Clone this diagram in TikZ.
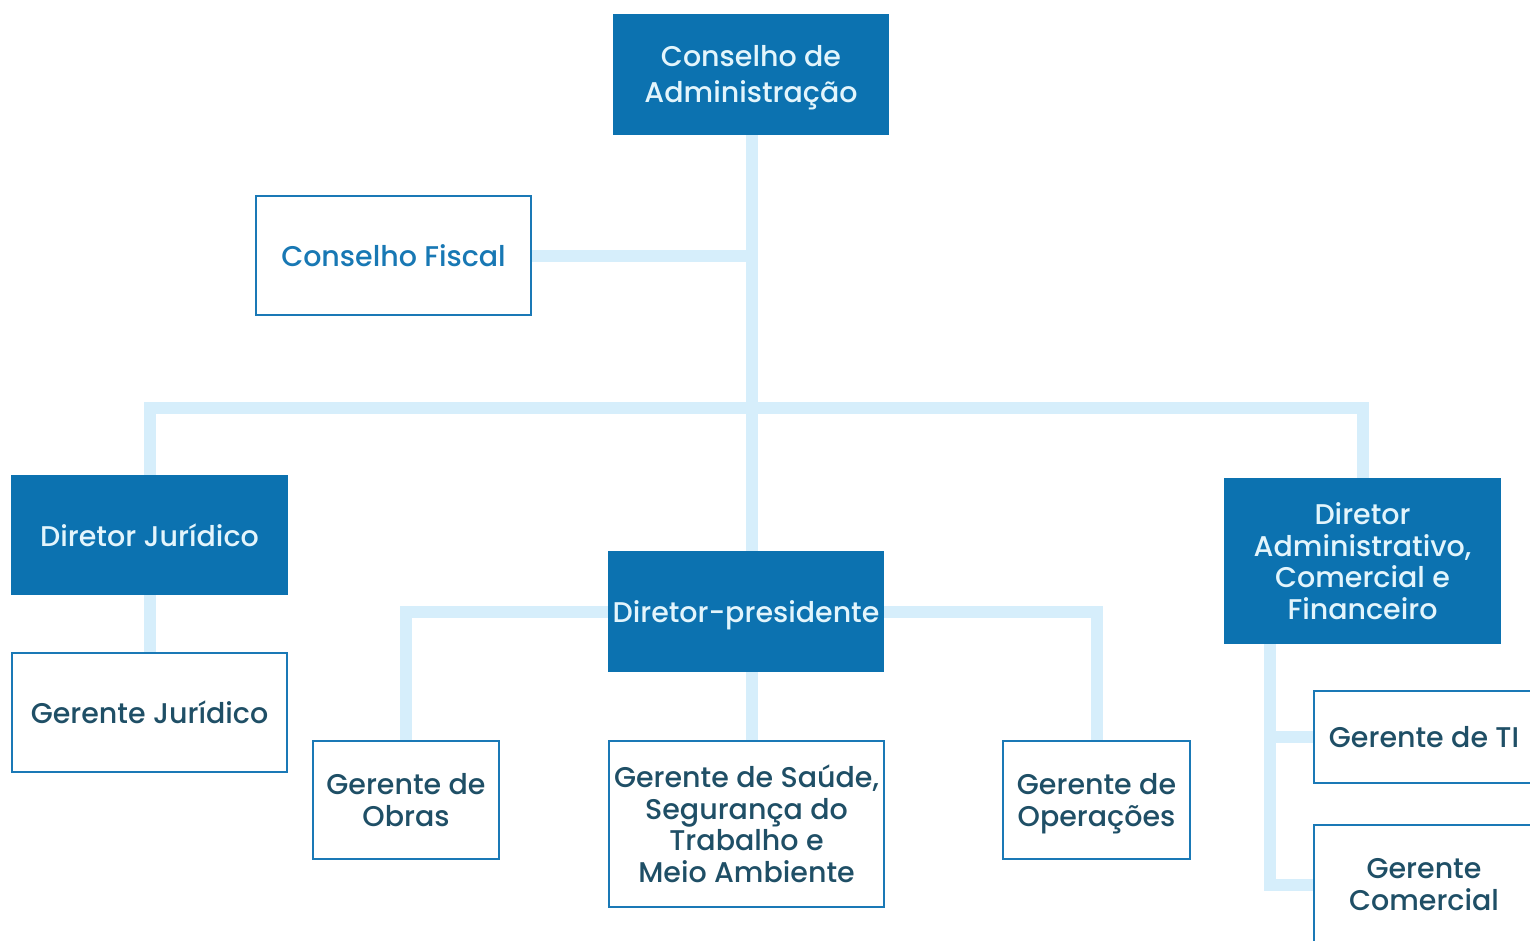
\documentclass[tikz,border=0pt]{standalone}
\usepackage{fontspec}
\setmainfont{Poppins}[UprightFont={* Medium}]
\usetikzlibrary{backgrounds,calc}
\definecolor{boxblue}{HTML}{0C72B0}
\definecolor{lighttxt}{HTML}{E3F5FC}
\definecolor{edgeblue}{HTML}{1A79B6}
\definecolor{darktxt}{HTML}{1F4F66}
\definecolor{fiscaltxt}{HTML}{1878B4}
\definecolor{linkblue}{HTML}{D6EEFB}
\tikzset{
  darkbox/.style={rectangle, fill=boxblue, text=lighttxt, align=center, inner sep=0pt,
    font=\fontsize{28.5}{31.5}\selectfont},
  lightbox/.style={rectangle, draw=edgeblue, line width=2.5pt, fill=white, text=darktxt, align=center, inner sep=0pt,
    font=\fontsize{28.5}{31.5}\selectfont},
  link/.style={draw=linkblue, line width=12pt}
}
\begin{document}
\begin{tikzpicture}[x=1pt,y=-1pt]
\useasboundingbox (0,0) rectangle (1530,940);
\clip (0,0) rectangle (1530,940);
\node[darkbox, minimum width=276pt, minimum height=121pt, font=\fontsize{28.5}{36}\selectfont, text depth=-4pt] (ca) at (751,74) {Conselho de\\Administração};
\node[lightbox, text=fiscaltxt, minimum width=275pt, minimum height=119pt] (cf) at (393.5,255.5) {Conselho Fiscal};
\node[darkbox, minimum width=277pt, minimum height=120pt] (dj) at (149.5,535) {Diretor Jurídico};
\node[lightbox, minimum width=275pt, minimum height=119pt] (gj) at (149.5,712.5) {Gerente Jurídico};
\node[darkbox, minimum width=276pt, minimum height=121pt, text depth=0pt] (dp) at (746,611.5) {Diretor-presidente};
\node[darkbox, minimum width=277pt, minimum height=166pt] (da) at (1362.5,561) {Diretor\\Administrativo,\\Comercial e\\Financeiro};
\node[lightbox, minimum width=186pt, minimum height=118pt, text depth=-6pt] (go) at (406,800) {Gerente de\\Obras};
\node[lightbox, minimum width=275pt, minimum height=166pt] (gs) at (746.5,824) {Gerente de Saúde,\\Segurança do\\Trabalho e\\Meio Ambiente};
\node[lightbox, minimum width=187pt, minimum height=118pt, text depth=-5pt] (gop) at (1096.5,800) {Gerente de\\Operações};
\node[lightbox, minimum width=220pt, minimum height=92pt] (gti) at (1424,737) {Gerente de TI};
\node[lightbox, minimum width=220pt, minimum height=119pt, text depth=-6pt] (gc) at (1424,884.5) {Gerente\\Comercial};
\coordinate (trunk) at (752,134);
\coordinate (bus) at (752,408);
\coordinate (dav) at (1270,644);
\begin{scope}[on background layer]
\draw[link] (trunk) -- (trunk |- dp.north);
\draw[link] (cf.east) -- (cf.east -| trunk);
\draw[link] (dj.north) |- (bus) -| (da.north);
\draw[link] (dj.south) -- (gj.north);
\draw[link] (dp.west) -| (go.north);
\draw[link] (dp.east) -| (gop.north);
\draw[link] (dp.south -| trunk) -- (gs.north -| trunk);
\draw[link] (dav) |- (gc.west);
\draw[link] (gti.west) -| (dav);
\end{scope}
\end{tikzpicture}
\end{document}
